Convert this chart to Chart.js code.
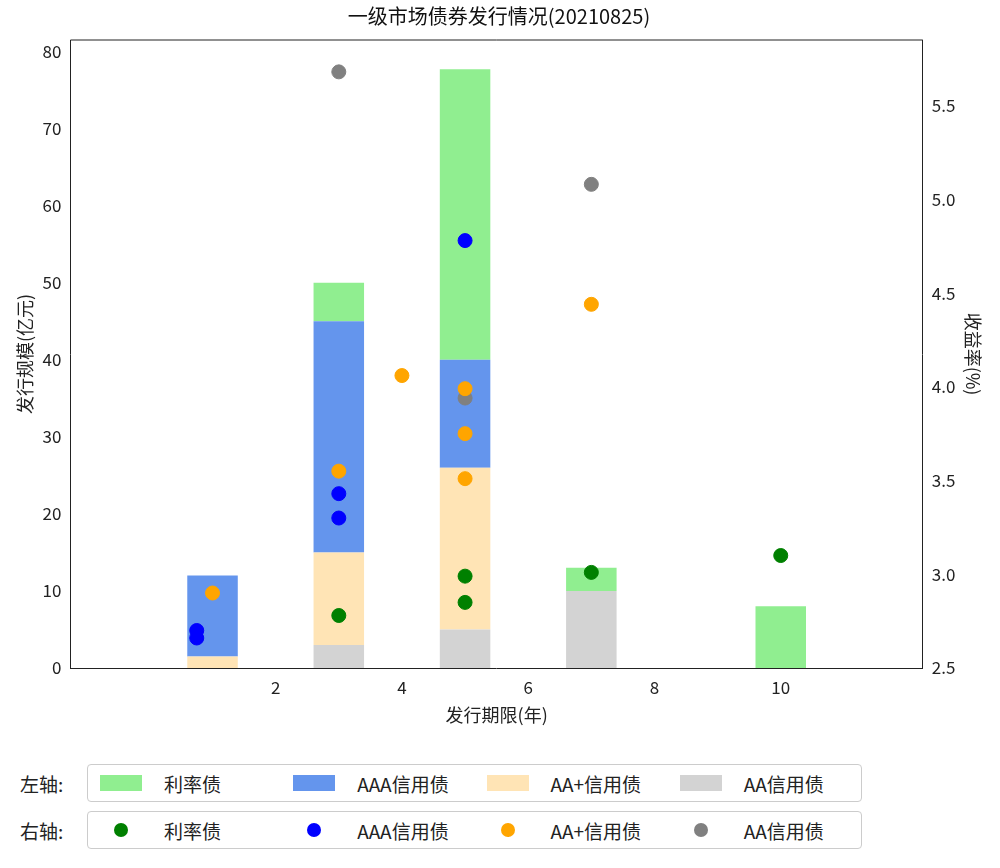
<!DOCTYPE html>
<html><head><meta charset="utf-8">
<script src="https://cdn.jsdelivr.net/npm/chart.js@4"></script>
<style>
body{margin:0;background:#fff;font-family:"Noto Sans CJK SC",sans-serif;}
#wrap{position:relative;width:1000px;height:730px;}
.row{position:absolute;left:0;display:flex;align-items:center;font-size:19px;color:#222;}
.lab{width:87px;text-align:left;padding-left:20px;box-sizing:border-box;}
.box{width:775px;height:38px;border:1px solid #ccc;border-radius:4px;display:flex;align-items:center;box-sizing:border-box;}
.it{flex:1;display:flex;align-items:center;}
.sw{width:42px;height:16px;margin:0 22px 0 12px;}
.dot{width:14px;height:14px;border-radius:50%;margin:0 36px 0 26px;}
</style></head>
<body>
<div id="wrap"><canvas id="c" width="1000" height="730"></canvas></div>
<div class="row" style="top:764px"><div class="lab">左轴:</div><div class="box" id="lg1"></div></div>
<div class="row" style="top:811px"><div class="lab">右轴:</div><div class="box" id="lg2"></div></div>
<script>
// 期限(年)
const barTerms = [1, 3, 5, 7, 10];
const names = ['利率债', 'AAA信用债', 'AA+信用债', 'AA信用债'];
// 发行规模(亿元)
const rateAmt = [0, 5, 37.7, 3, 8];
const aaaAmt  = [10.5, 30, 14, 0, 0];
const aapAmt  = [1.5, 12, 21, 0, 0];
const aaAmt   = [0, 3, 5, 10, 0];
// 收益率(%)
const ratePts = [[3, 2.78], [5, 2.99], [5, 2.85], [7, 3.01], [10, 3.10]];
const aaaPts  = [[0.75, 2.70], [0.75, 2.66], [3, 3.43], [3, 3.30], [5, 4.78]];
const aapPts  = [[1, 2.90], [3, 3.55], [4, 4.06], [5, 3.99], [5, 3.75], [5, 3.51], [7, 4.44]];
const aaPts   = [[3, 5.68], [5, 3.94], [7, 5.08]];
const xTicks = [2, 4, 6, 8, 10];
const yTicks = [0, 10, 20, 30, 40, 50, 60, 70, 80];
const y1Ticks = [2.5, 3.0, 3.5, 4.0, 4.5, 5.0, 5.5];

const barColors = ['#90ee90', '#6495ed', '#ffe4b5', '#d3d3d3'];
const dotColors = ['#008000', '#0000ff', '#ffa500', '#808080'];

function bars(vals) { return barTerms.map(function(t, i) { return {x: t, y: vals[i]}; }); }
function pts(arr) { return arr.map(function(p) { return {x: p[0], y: p[1]}; }); }

const barSets = [aaAmt, aapAmt, aaaAmt, rateAmt];
const barIdx = [3, 2, 1, 0];
const datasets = [];
barSets.forEach(function(v, k) {
    datasets.push({type: 'bar', label: names[barIdx[k]], data: bars(v), backgroundColor: barColors[barIdx[k]],
        yAxisID: 'y', stack: 's', barPercentage: 0.4, categoryPercentage: 1, order: 2});
});
[ratePts, aaaPts, aapPts, aaPts].forEach(function(p, k) {
    datasets.push({type: 'scatter', label: names[k], data: pts(p), backgroundColor: dotColors[k],
        borderColor: dotColors[k], pointRadius: 7, yAxisID: 'y1', order: 1});
});

Chart.defaults.font.family = '"Noto Sans CJK SC", sans-serif';
Chart.defaults.color = '#222';
const fixTicks = function(arr) { return function(s) { s.ticks = arr.map(function(v) { return {value: v}; }); }; };
const tickCfg = {font: {size: 17}, color: '#222'};

new Chart(document.getElementById('c'), {
    type: 'bar',
    data: {datasets: datasets},
    options: {
        responsive: false, animation: false, devicePixelRatio: 1,
        layout: {padding: {left: 10, right: 12, top: 4}},
        plugins: {
            legend: {display: false}, tooltip: {enabled: false},
            title: {display: true, text: '一级市场债券发行情况(20210825)', font: {size: 20, weight: 'normal'}, color: '#111', padding: {bottom: 12}}
        },
        scales: {
            x: {type: 'linear', min: 0.1, max: 10.9, afterBuildTicks: fixTicks(xTicks),
                grid: {display: false, drawTicks: true, tickLength: 6},
                border: {color: '#222'}, ticks: tickCfg,
                title: {display: true, text: '发行期限(年)', font: {size: 18}}},
            y: {stacked: true, min: 0, max: 81.5, afterBuildTicks: fixTicks(yTicks),
                grid: {display: false, tickLength: 6}, border: {color: '#222'}, ticks: tickCfg,
                title: {display: true, text: '发行规模(亿元)', font: {size: 18}}},
            y1: {position: 'right', min: 2.5, max: 5.85, afterBuildTicks: fixTicks(y1Ticks),
                grid: {display: false, tickLength: 6}, border: {color: '#222'},
                ticks: {font: {size: 17}, color: '#222', callback: function(v) { return v.toFixed(1); }},
                title: {display: true, text: '收益率(%)', font: {size: 18}}}
        }
    },
    plugins: [{id: 'frame', afterDraw: function(ch) {
        const a = ch.chartArea, g = ch.ctx;
        g.save(); g.strokeStyle = '#222'; g.lineWidth = 1;
        g.beginPath(); g.moveTo(a.left, a.top); g.lineTo(a.right, a.top); g.stroke(); g.restore();
    }}]
});

const lg1 = document.getElementById('lg1'), lg2 = document.getElementById('lg2');
names.forEach(function(n, i) {
    lg1.innerHTML += '<div class="it"><div class="sw" style="background:' + barColors[i] + '"></div>' + n + '</div>';
    lg2.innerHTML += '<div class="it"><div class="dot" style="background:' + dotColors[i] + '"></div>' + n + '</div>';
});
</script>
</body></html>
